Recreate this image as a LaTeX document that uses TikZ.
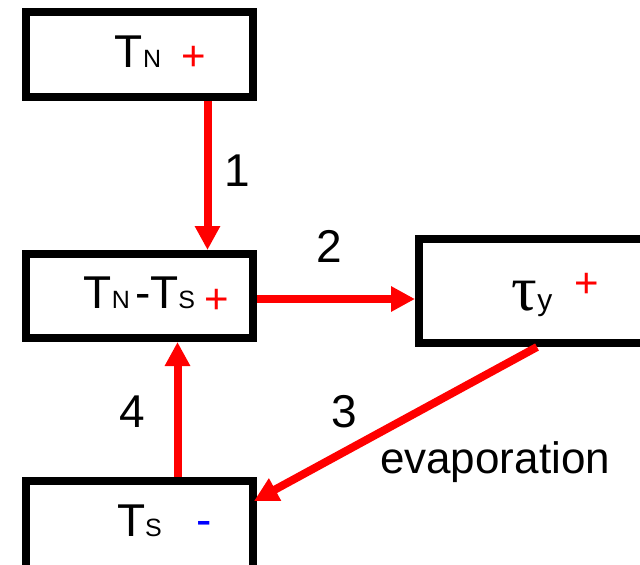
\documentclass[tikz,border=0pt]{standalone}
\usepackage{fontspec}
\setmainfont{Liberation Sans}
\newfontfamily\greekfont{Liberation Serif}
\usetikzlibrary{arrows.meta, calc, positioning}

\newcommand{\bigtxt}{\fontsize{46}{50}\selectfont}
\newcommand{\subtxt}{\fontsize{25}{28}\selectfont}

\begin{document}
\begin{tikzpicture}[x=1pt, y=-1pt,
    box/.style={draw, line width=8pt, minimum width=227pt, minimum height=85pt, inner sep=0pt},
    flow/.style={-{Triangle[length=24pt, width=24pt]}, red, line width=8pt},
    num/.style={font=\bigtxt, inner sep=0pt},
    sign/.style={font=\fontsize{42}{44}\selectfont, inner sep=0pt}]
    \useasboundingbox (0,0) rectangle (640,565);

    % Kästen
    \node[box] (tnbox) at (139.5,54.5) {};
    \node[box, minimum height=84pt] (tntsbox) at (139.5,296) {};
    \node[box, minimum width=240pt, minimum height=104pt] (taubox) at (539,291) {};
    \node[box, minimum height=94pt] (tsbox) at (139.5,528) {};

    % Beschriftungen der Kästen
    \node[num, anchor=base] (tn) at (138,67) {T{\subtxt N}};
    \node[sign, red] (tnsign) at (194,58) {+};
    \node[num, anchor=base] (tnts) at (139.5,308) {T{\subtxt N}\hspace{5pt}-T{\subtxt S}};
    \node[sign, red] (tntssign) at (217,301) {+};
    \node[num, anchor=base] (tau) at (532,310) {{\greekfont\fontsize{64}{64}\selectfont τ}{\fontsize{30}{30}\selectfont y}};
    \node[sign, red] (tausign) at (587,285) {+};
    \node[num, anchor=base] (ts) at (139.5,536) {T{\subtxt S}};
    \node[sign, blue, font=\fontsize{46}{46}\selectfont] (tssign) at (204,528) {-};

    % Pfeile
    \draw[flow] ([xshift=68pt]tnbox.south) -- ([xshift=68pt]tntsbox.north);
    \draw[flow] ([yshift=-3pt]tntsbox.east) -- ([yshift=-3pt]tntsbox.east -| taubox.west);
    \draw[flow] ([xshift=-2pt]taubox.south) -- ([xshift=-3pt, yshift=-24pt]tsbox.north east);
    \draw[flow] ([xshift=38pt]tsbox.north) -- ([xshift=38pt]tntsbox.south);

    % Nummern
    \node[num] (one) at (237,171) {1};
    \node[num] (two) at (329,246) {2};
    \node[num] (three) at (344,412) {3};
    \node[num] (four) at (132,412) {4};
    \node[num, font=\fontsize{44}{48}\selectfont, anchor=base] (evap) at (495,473) {evaporation};
\end{tikzpicture}
\end{document}
